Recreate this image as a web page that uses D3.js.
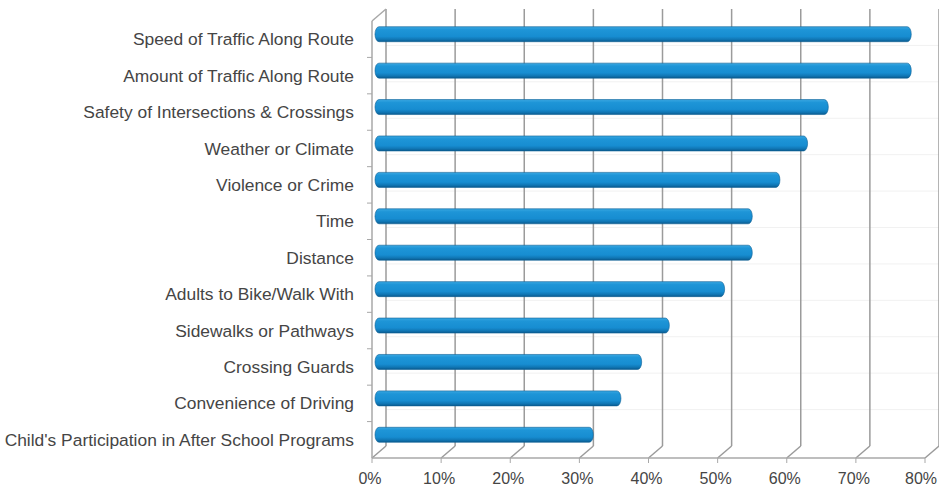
<!DOCTYPE html>
<html lang="en">
  <meta charset="utf-8">
  <style>
    body { margin: 0; background: #fff; }
    text { font-family: "Liberation Sans", Arial, sans-serif; fill: #454545; }
  </style>
  <body>
    <svg width="939" height="490"></svg>

    <script src="https://d3js.org/d3.v7.min.js"></script>
    <script>
    let categories = [
      'Speed of Traffic Along Route',
      'Amount of Traffic Along Route',
      'Safety of Intersections & Crossings',
      'Weather or Climate',
      'Violence or Crime',
      'Time',
      'Distance',
      'Adults to Bike/Walk With',
      'Sidewalks or Pathways',
      'Crossing Guards',
      'Convenience of Driving',
      "Child's Participation in After School Programs"
    ]
    let values = [77, 77, 65, 62, 58, 54, 54, 50, 42, 38, 35, 31]
    let ticks = [0, 10, 20, 30, 40, 50, 60, 70, 80]

    // 3d depth offset of the back wall
    let dx = 14, dy = -12
    let yTop = 21, yBottom = 458

    let x = d3.scaleLinear()
              .domain([0, 80])
              .range([372, 925])
    let y = d3.scaleBand()
              .domain(categories)
              .range([yTop, yBottom])

    let svg = d3.select('svg')

    let defs = svg.append('defs')
    let grad = defs.append('linearGradient')
       .attr('id', 'cyl').attr('x1', 0).attr('y1', 0).attr('x2', 0).attr('y2', 1)
    grad.selectAll('stop')
       .data([[0, '#3aa8e2'], [0.2, '#1e95d7'], [0.65, '#178dd1'], [0.85, '#1076b4'], [1, '#0a5a8e']])
       .enter().append('stop')
       .attr('offset', d => d[0])
       .attr('stop-color', d => d[1])

    // faint back wall lines
    svg.append('g').selectAll('line')
       .data(categories.slice(1)).enter()
       .append('line')
       .attr('x1', x(0) + dx).attr('x2', x(80) + dx)
       .attr('y1', d => y(d) + dy).attr('y2', d => y(d) + dy)
       .attr('stroke', '#f1f1f1')

    // gridlines on back wall + floor diagonals
    let grid = svg.append('g').attr('stroke', '#9b9b9b').attr('stroke-width', 1.5)
    grid.selectAll('.g').data(ticks).enter()
       .append('line')
       .attr('x1', d => x(d) + dx).attr('x2', d => x(d) + dx)
       .attr('y1', yTop + dy).attr('y2', yBottom + dy)
    grid.selectAll('.d').data(ticks).enter()
       .append('line')
       .attr('x1', d => x(d)).attr('x2', d => x(d) + dx)
       .attr('y1', yBottom).attr('y2', yBottom + dy)

    // left wall and floor edges
    let axisColor = '#a8a8a8'
    svg.append('line')
       .attr('x1', x(0)).attr('x2', x(0)).attr('y1', yTop).attr('y2', yBottom)
       .attr('stroke', axisColor).attr('stroke-width', 1.5)
    svg.append('line')
       .attr('x1', x(0)).attr('x2', x(0) + dx).attr('y1', yTop).attr('y2', yTop + dy)
       .attr('stroke', axisColor).attr('stroke-width', 1.5)
    svg.append('line')
       .attr('x1', x(0)).attr('x2', x(80)).attr('y1', yBottom).attr('y2', yBottom)
       .attr('stroke', axisColor).attr('stroke-width', 1.5)

    // category ticks
    svg.append('g').selectAll('line')
       .data(categories.slice(1)).enter()
       .append('line')
       .attr('x1', x(0) - 5).attr('x2', x(0))
       .attr('y1', d => y(d)).attr('y2', d => y(d))
       .attr('stroke', axisColor)

    // x ticks
    svg.append('g').selectAll('line')
       .data(ticks).enter()
       .append('line')
       .attr('x1', d => x(d)).attr('x2', d => x(d))
       .attr('y1', yBottom).attr('y2', yBottom + 5)
       .attr('stroke', axisColor)

    // cylinder bars
    let barH = 15
    svg.append('g').selectAll('rect')
       .data(values).enter()
       .append('rect')
       .attr('x', x(0) + dx / 2 - 4)
       .attr('y', (d, i) => y(categories[i]) + y.bandwidth() / 2 - 5 - barH / 2)
       .attr('width', d => x(d) - x(0) + 4)
       .attr('height', barH)
       .attr('rx', 4).attr('ry', barH / 2)
       .attr('fill', 'url(#cyl)')
       .attr('stroke', '#0b5f96').attr('stroke-width', 0.6)

    // category labels
    svg.append('g').selectAll('text')
       .data(categories).enter()
       .append('text')
       .attr('x', 354)
       .attr('y', d => y(d) + y.bandwidth() / 2)
       .attr('dy', '0.35em')
       .attr('text-anchor', 'end')
       .attr('font-size', '17.4px')
       .text(d => d)

    // tick labels
    svg.append('g').selectAll('text')
       .data(ticks).enter()
       .append('text')
       .attr('x', d => Math.min(x(d) - 2, 921))
       .attr('y', 478)
       .attr('dy', '0.35em')
       .attr('text-anchor', 'middle')
       .attr('font-size', '16px')
       .text(d => d + '%')
    </script>
</body>
</html>
